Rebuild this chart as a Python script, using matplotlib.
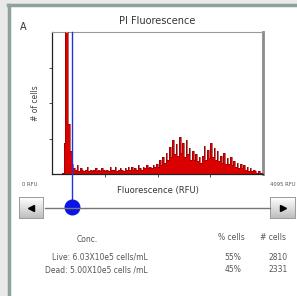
import numpy as np
import matplotlib
matplotlib.use("Agg")
import matplotlib.pyplot as plt
from matplotlib.lines import Line2D
from matplotlib.patches import Rectangle

# histogram of PI fluorescence, 128 bins over 0..4095 RFU
rfu_max = 4095
counts = [
    0, 0, 0, 0, 0, 0, 1,
    22, 130, 130, 35, 16, 7,
    4, 3, 6, 2, 4, 3, 2, 3,
    5, 2, 3, 2, 3, 4, 2, 3,
    2, 4, 3, 2, 3, 2, 5, 3,
    3, 5, 2, 3, 4, 3, 2, 4,
    3, 5, 3, 5, 3, 4, 3, 6,
    4, 3, 5, 4, 6, 4, 5, 4,
    6, 5,
    7, 5, 10, 6, 12, 8,
    15, 10, 19, 12, 24, 14, 21, 13,
    26, 15, 22, 12, 24, 14, 18, 10,
    16, 10, 14, 9, 12, 8,
    13, 20, 10, 17, 11, 22, 12, 18,
    10, 16, 9, 13, 8, 15, 7, 11,
    7, 12, 6, 9, 5, 8, 4, 7,
    4, 6, 3, 5, 2, 4, 2, 3,
    2, 1, 2, 1, 1,
]
gate = 390

header = ["Conc.", "% cells", "# cells"]
conc = ["Live: 6.03X10e5 cells/mL", "Dead: 5.00X10e5 cells /mL"]
pct = ["55%", "45%"]
ncells = ["2810", "2331"]

W, H = 297, 296


def fx(x):
    return x / W


def fy(y):
    return 1 - y / H


fig = plt.figure(figsize=(2.97, 2.96), dpi=100, facecolor="#e9e9e9")

# white panel with teal-grey border
fig.patches.append(Rectangle((fx(9), 0), 1, fy(5), transform=fig.transFigure,
                             facecolor="white", edgecolor="none", zorder=-10))
bc = "#8da29e"
fig.lines.append(Line2D([fx(8), 1], [fy(5), fy(5)], transform=fig.transFigure, color=bc, lw=2.5))
fig.lines.append(Line2D([fx(9), fx(9)], [0, fy(5)], transform=fig.transFigure, color=bc, lw=2.5))

ax = fig.add_axes([fx(52), fy(174), fx(263) - fx(52), fy(32) - fy(174)])
ax.patch.set_alpha(0)
edges = np.linspace(0, rfu_max, len(counts) + 1)
ax.stairs(counts, edges, fill=True, color="#da0000", zorder=2)
ax.stairs(counts, edges, color="#7a0000", lw=0.4, zorder=3)
ax.set_xlim(0, rfu_max)
ax.set_ylim(0, 100)
ax.set_xticks([1024, 2048, 3072])
ax.set_yticks([25, 50, 75])
ax.tick_params(length=2.5, width=0.6, labelbottom=False, labelleft=False, colors="#333333")
for s in ["left", "bottom"]:
    ax.spines[s].set_color("#222222")
    ax.spines[s].set_linewidth(0.9)
ax.spines["top"].set_color("#9a9a9a")
ax.spines["top"].set_linewidth(0.8)
ax.spines["right"].set_color("#8c8c8c")
ax.spines["right"].set_linewidth(2)
ax.set_ylabel("# of cells", fontsize=5.5, color="#444444", labelpad=6)
ax.set_title("PI Fluorescence", fontsize=7, color="#333333", pad=6)

# gate line and slider knob
slider_y = (174 - 207) / (174 - 32)
ax.axvline(gate, ymin=slider_y, ymax=1, color="#2233dd", lw=1, clip_on=False, zorder=4)
fig.lines.append(Line2D([fx(45), fx(270)], [fy(207.5), fy(207.5)], transform=fig.transFigure,
                        color="#777777", lw=1))
ax.plot([gate], [slider_y], "o", transform=ax.get_xaxis_transform(), clip_on=False,
        color="#0a14e6", markersize=10.5, zorder=5)

fig.text(fx(23), fy(27), "A", fontsize=7, color="#333333", ha="center", va="center")
fig.text(fx(30), fy(184), "0 RFU", fontsize=3.8, color="#555555", ha="center", va="center")
fig.text(fx(283), fy(184), "4095 RFU", fontsize=3.8, color="#555555", ha="center", va="center")
fig.text(fx(158), fy(191), "Fluorescence (RFU)", fontsize=6, color="#333333", ha="center", va="center")

# arrow buttons
grad = np.linspace(1, 0.75, 20).reshape(-1, 1)
for x0, x1, mk in [(19, 43, "<"), (270, 295, ">")]:
    bax = fig.add_axes([fx(x0), fy(218), fx(x1) - fx(x0), fy(197) - fy(218)])
    bax.imshow(grad, cmap="gray", vmin=0, vmax=1, aspect="auto", extent=[0, 1, 0, 1])
    bax.plot([0.5], [0.5], marker=mk, color="black", markersize=4.5)
    bax.set_xlim(0, 1)
    bax.set_ylim(0, 1)
    bax.set_xticks([])
    bax.set_yticks([])
    for s in bax.spines.values():
        s.set_color("#9a9a9a")
        s.set_linewidth(0.7)

# results table
tc = "#555555"
fig.text(fx(87), fy(239), header[0], fontsize=5.5, color=tc, ha="center", va="center")
fig.text(fx(231), fy(238), header[1], fontsize=5.5, color=tc, ha="center", va="center")
fig.text(fx(273), fy(238), header[2], fontsize=5.5, color=tc, ha="center", va="center")
for i, yy in enumerate([257, 270]):
    fig.text(fx(148), fy(yy), conc[i], fontsize=5.5, color=tc, ha="right", va="center")
    fig.text(fx(233), fy(yy), pct[i], fontsize=5.5, color=tc, ha="center", va="center")
    fig.text(fx(278), fy(yy), ncells[i], fontsize=5.5, color=tc, ha="center", va="center")

fig.savefig("out.png", dpi=100, facecolor=fig.get_facecolor())
